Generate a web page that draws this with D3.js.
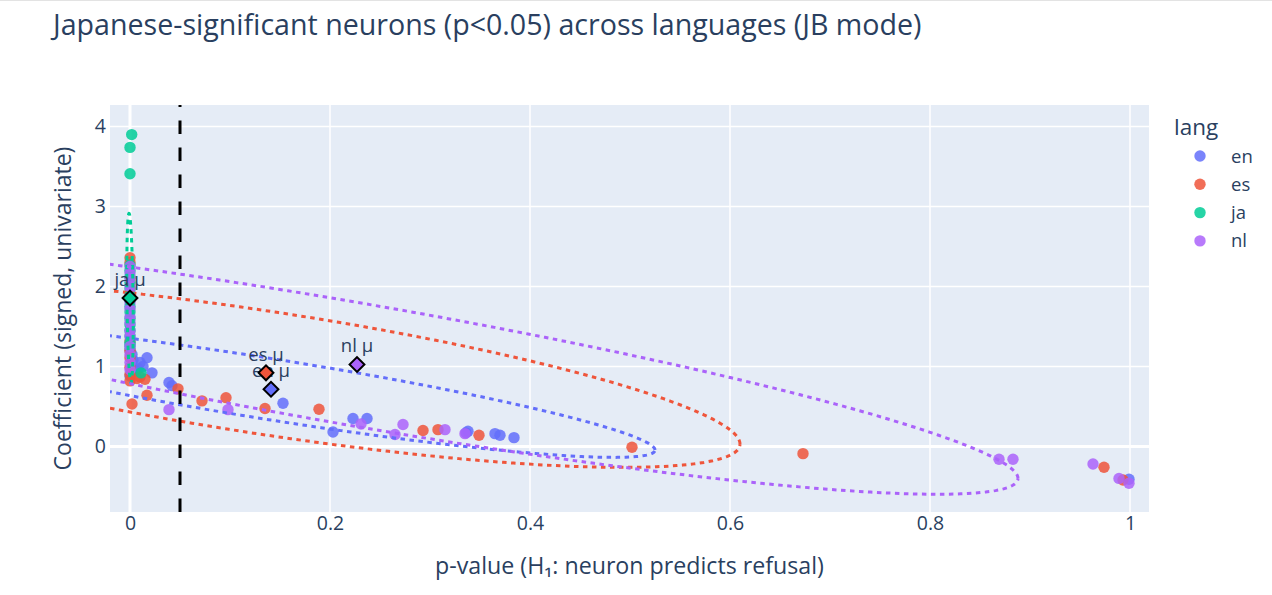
<!DOCTYPE html>
<meta charset="utf-8">
<head>
<script src="https://d3js.org/d3.v7.min.js"></script>
<style>
  body { margin: 0; background: #fff; }
  text { font-family: "Open Sans", Arial, sans-serif; fill: #2a3f5f; }
</style>
</head>
<body>
<svg width="1272" height="595"></svg>
<script>
// ---- data ----
const langs = ["en", "es", "ja", "nl"];

const enPoints = [[0.0, 1.2], [0.0, 1.28], [0.002, 1.15], [0.003, 1.08],
  [0.017, 1.11], [0.01, 1.05], [0.013, 1.0], [0.005, 0.95], [0.022, 0.92], [0.0, 0.88],
  [0.008, 0.97], [0.039, 0.8], [0.042, 0.76], [0.153, 0.54], [0.203, 0.18], [0.223, 0.35],
  [0.237, 0.35], [0.336, 0.17], [0.338, 0.19], [0.365, 0.16], [0.37, 0.14], [0.384, 0.11],
  [0.999, -0.41]];
const esPoints = [[0.0, 2.36], [0.0, 2.3], [0.0, 1.32], [0.0, 1.2], [0.0, 1.11], [0.0, 0.99],
  [0.0, 0.9], [0.0, 0.82], [0.007, 0.85], [0.015, 0.84], [0.01, 0.87], [0.017, 0.64],
  [0.002, 0.53], [0.048, 0.72], [0.072, 0.57], [0.096, 0.61], [0.135, 0.475], [0.189, 0.465],
  [0.293, 0.2], [0.308, 0.21], [0.349, 0.14], [0.502, -0.01], [0.673, -0.09], [0.974, -0.26],
  [0.993, -0.42]];
const jaPoints = [[0.0017, 3.9], [0.0, 3.74], [0.0, 3.41], [0.0, 2.27], [0.0, 2.2], [0.0, 2.12],
  [0.0, 2.05], [0.0, 1.97], [0.0, 1.9], [0.0, 1.83], [0.0, 1.75], [0.0, 1.68], [0.0, 1.6],
  [0.0, 1.52], [0.0, 1.45], [0.0, 1.38], [0.0, 1.3], [0.0, 1.25], [0.011, 0.92]];
const nlPoints = [[0.0, 2.25], [0.0, 2.17], [0.0, 2.1], [0.0, 2.0], [0.0, 1.92], [0.0, 1.8],
  [0.0, 1.72], [0.0, 1.62], [0.0, 1.55], [0.0, 1.45], [0.0, 1.38], [0.0, 1.25], [0.0, 1.15],
  [0.0, 1.05], [0.0, 0.96], [0.039, 0.46], [0.098, 0.46], [0.231, 0.28], [0.265, 0.15],
  [0.273, 0.275], [0.315, 0.21], [0.335, 0.16], [0.869, -0.16], [0.883, -0.16], [0.963, -0.22],
  [0.989, -0.40], [0.999, -0.46]];

// per-language mean (the diamond) and spread ellipse (x half-width, y half-height, correlation)
const meanX = [0.141, 0.136, 0.0, 0.227];
const meanY = [0.715, 0.92, 1.855, 1.025];
const ellSx = [0.384, 0.474, 0.0032, 0.661];
const ellSy = [0.852, 1.182, 1.06, 1.623];
const ellRho = [-0.892, -0.753, -0.3, -0.878];

const xTicks = [0, 0.2, 0.4, 0.6, 0.8, 1];
const yTicks = [0, 1, 2, 3, 4];
const pCut = 0.05;

const colors = { en: "#636efa", es: "#ef553b", ja: "#00cc96", nl: "#ab63fa" };
const pointsByLang = { en: enPoints, es: esPoints, ja: jaPoints, nl: nlPoints };

// ---- layout ----
var svg = d3.select("svg");
var margin = { left: 110, top: 105 };
var width = 1039;
var height = 407;

svg.append("line").attr("x1", 0).attr("x2", 1272).attr("y1", 0.5).attr("y2", 0.5)
  .attr("stroke", "#e3e3e3");

var x = d3.scaleLinear().domain([-0.02, 1.019]).range([0, width]);
var y = d3.scaleLinear().domain([-0.82, 4.27]).range([height, 0]);

var g = svg.append("g")
  .attr("transform", "translate(" + margin.left + "," + margin.top + ")");

svg.append("defs").append("clipPath").attr("id", "plotclip")
  .append("rect").attr("width", width).attr("height", height);

g.append("rect").attr("width", width).attr("height", height).attr("fill", "#e5ecf6");

// grid
g.selectAll(".gx").data(xTicks).enter().append("line")
  .attr("x1", d => x(d)).attr("x2", d => x(d)).attr("y1", 0).attr("y2", height)
  .attr("stroke", "#fff").attr("stroke-width", d => d === 0 ? 3 : 1.5);
g.selectAll(".gy").data(yTicks).enter().append("line")
  .attr("y1", d => y(d)).attr("y2", d => y(d)).attr("x1", 0).attr("x2", width)
  .attr("stroke", "#fff").attr("stroke-width", d => d === 0 ? 3 : 1.5);

// axes (labels only)
var fmt = d3.format("~g");
var xAxis = g.append("g").attr("transform", "translate(0," + height + ")")
  .call(d3.axisBottom(x).tickValues(xTicks).tickSize(0).tickPadding(4).tickFormat(fmt));
var yAxis = g.append("g")
  .call(d3.axisLeft(y).tickValues(yTicks).tickSize(0).tickPadding(4).tickFormat(fmt));
[xAxis, yAxis].forEach(a => {
  a.select(".domain").remove();
  a.selectAll("text").attr("fill", "#2a3f5f").style("font-size", "19.5px")
    .style("font-family", '"Open Sans", Arial, sans-serif');
});

var plot = g.append("g").attr("clip-path", "url(#plotclip)");

// scatter points
langs.forEach(l => {
  plot.append("g").selectAll("circle")
    .data(pointsByLang[l])
    .enter().append("circle")
    .attr("cx", d => x(d[0]))
    .attr("cy", d => y(d[1]))
    .attr("r", 5.7)
    .attr("fill", colors[l])
    .attr("opacity", 0.85);
});

// ellipses
var line = d3.line().x(d => x(d[0])).y(d => y(d[1]));
langs.forEach((l, i) => {
  var r = ellRho[i];
  var pts = d3.range(241).map(k => {
    var t = 2 * Math.PI * k / 240;
    return [meanX[i] + ellSx[i] * Math.cos(t),
            meanY[i] + ellSy[i] * (r * Math.cos(t) + Math.sqrt(1 - r * r) * Math.sin(t))];
  });
  plot.append("path").datum(pts)
    .attr("d", line)
    .attr("fill", "none")
    .attr("stroke", colors[l])
    .attr("stroke-width", 3)
    .attr("stroke-dasharray", "4.5,4.5");
});

// means
var diamond = d3.symbol().type(d3.symbolSquare).size(110);
langs.forEach((l, i) => {
  var px = x(meanX[i]), py = y(meanY[i]);
  g.append("path").attr("d", diamond)
    .attr("transform", "translate(" + px + "," + py + ") rotate(45)")
    .attr("fill", colors[l]).attr("stroke", "#000").attr("stroke-width", 2);
  g.append("text").attr("x", px).attr("y", py - 12)
    .attr("text-anchor", "middle").style("font-size", "18.5px")
    .text(l + " μ");
});

// p = 0.05 line
g.append("line")
  .attr("x1", x(pCut)).attr("x2", x(pCut)).attr("y1", height).attr("y2", 0)
  .attr("stroke", "#000").attr("stroke-width", 3).attr("stroke-dasharray", "13.5,13.5");

// titles
svg.append("text").attr("x", 53).attr("y", 35).style("font-size", "28.6px")
  .text("Japanese-significant neurons (p<0.05) across languages (JB mode)");
svg.append("text").attr("x", margin.left + width / 2).attr("y", 574)
  .attr("text-anchor", "middle").style("font-size", "23.2px")
  .text("p-value (H₁: neuron predicts refusal)");
svg.append("text")
  .attr("transform", "translate(71," + (margin.top + height / 2) + ") rotate(-90)")
  .attr("text-anchor", "middle").style("font-size", "23px")
  .text("Coefficient (signed, univariate)");

// legend
var leg = svg.append("g").attr("transform", "translate(1174,0)");
leg.append("text").attr("x", 0).attr("y", 135).style("font-size", "22.5px").text("lang");
langs.forEach((l, i) => {
  var ly = 156 + i * 28.3;
  leg.append("circle").attr("cx", 26).attr("cy", ly).attr("r", 5.7)
    .attr("fill", colors[l]).attr("opacity", 0.85);
  leg.append("text").attr("x", 57).attr("y", ly + 6.5).style("font-size", "18.5px").text(l);
});
</script>
</body>
